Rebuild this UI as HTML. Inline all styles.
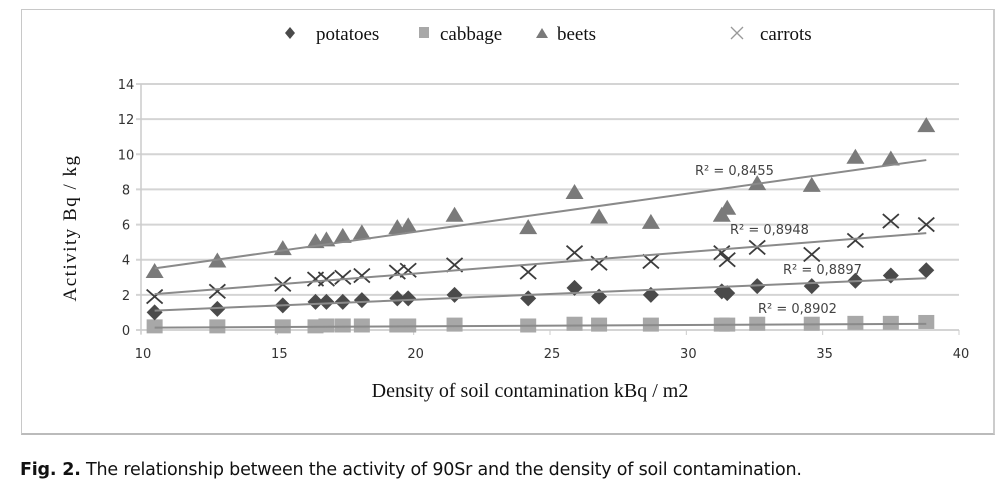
<!DOCTYPE html>
<html><head><meta charset="utf-8"><style>
body{margin:0;width:1002px;height:495px;background:#fff;overflow:hidden;font-family:"Liberation Sans",sans-serif}
#frame{position:absolute;left:21px;top:9px;width:971px;height:423px;border:1px solid #c8c8c8;border-bottom:2px solid #bbb;border-right:2px solid #ccc}
#caption{position:absolute;left:20px;top:460px;font-size:17.5px;color:#111;white-space:nowrap;font-family:"DejaVu Sans",sans-serif;letter-spacing:-0.2px}
svg{position:absolute;left:0;top:0}
</style></head><body>
<div id="frame"></div>
<svg id="chart" width="1002" height="495"></svg>
<div id="caption"><b>Fig. 2.</b> The relationship between the activity of 90Sr and the density of soil contamination.</div>
<script>
const xs=[10.5,12.8,15.2,16.4,16.8,17.4,18.1,19.4,19.8,21.5,24.2,25.9,26.8,28.7,31.3,31.5,32.6,34.6,36.2,37.5,38.8];
const beets=[3.3,3.9,4.6,5.0,5.1,5.3,5.5,5.8,5.9,6.5,5.8,7.8,6.4,6.1,6.5,6.9,8.3,8.2,9.8,9.7,11.6];
const carrots=[1.9,2.2,2.6,2.9,2.9,3.0,3.1,3.3,3.4,3.7,3.3,4.4,3.8,3.9,4.4,4.0,4.7,4.3,5.1,6.2,6.0];
const potatoes=[1.0,1.2,1.4,1.6,1.6,1.6,1.7,1.8,1.8,2.0,1.8,2.4,1.9,2.0,2.2,2.1,2.5,2.5,2.8,3.1,3.4];
const cabbage=[0.15,0.15,0.15,0.15,0.2,0.2,0.2,0.2,0.2,0.25,0.2,0.3,0.25,0.25,0.25,0.25,0.3,0.3,0.35,0.35,0.4];
const xTicks=[10,15,20,25,30,35,40];
const yTicks=[0,2,4,6,8,10,12,14];
const r2Labels=["R² = 0,8455","R² = 0,8948","R² = 0,8897","R² = 0,8902"];

const svg=document.getElementById('chart');
const NS='http://www.w3.org/2000/svg';
const X=v=>141+(v-10)*(959-141)/30;
const Y=v=>330-v*(330-84)/14;
function mk(t,a,p){const e=document.createElementNS(NS,t);for(const k in a)e.setAttribute(k,a[k]);(p||svg).appendChild(e);return e;}

yTicks.forEach(t=>{
  const g=mk('line',{x1:136,x2:959,y1:Y(t),y2:Y(t),stroke:'#d4d4d4','stroke-width':2});
  
  
  const l=mk('text',{x:126,y:Y(t)+5,'text-anchor':'middle','font-size':13,fill:'#333','font-family':'DejaVu Sans, sans-serif'});
  l.textContent=t;
  
  
});
const ax=mk('line',{x1:141,x2:141,y1:84,y2:334,stroke:'#ccc','stroke-width':1.5});


xTicks.forEach(t=>{
  const tk=mk('line',{x1:X(t),x2:X(t),y1:330,y2:335,stroke:'#ccc'});
  
  
  const l=mk('text',{x:X(t)+2,y:358,'text-anchor':'middle','font-size':13,fill:'#333','font-family':'DejaVu Sans, sans-serif'});
  l.textContent=t;
  
  
});

function fit(ys){const n=xs.length;let sx=0,sy=0,sxx=0,sxy=0;for(let i=0;i<n;i++){sx+=xs[i];sy+=ys[i];sxx+=xs[i]*xs[i];sxy+=xs[i]*ys[i];}const b=(n*sxy-sx*sy)/(n*sxx-sx*sx);return [b,(sy-b*sx)/n];}
function trend(ys,name){const [b,a]=fit(ys);const x0=xs[0],x1=xs[xs.length-1];
  const l=mk('line',{x1:X(x0),y1:Y(a+b*x0),x2:X(x1),y2:Y(a+b*x1),stroke:'#8a8a8a','stroke-width':2});
  
  }
function marker(type,x,y,name){
  let e;
  if(type==='diamond')e=mk('polygon',{points:`${x},${y-8} ${x+8},${y} ${x},${y+8} ${x-8},${y}`,fill:'#4a4a4a'});
  else if(type==='square')e=mk('rect',{x:x-8,y:y-8,width:16,height:14,fill:'#a8a8a8'});
  else if(type==='triangle')e=mk('polygon',{points:`${x},${y-9} ${x+9},${y+6} ${x-9},${y+6}`,fill:'#7a7a7a'});
  else e=mk('path',{d:`M${x-8},${y-7}L${x+8},${y+7}M${x-8},${y+7}L${x+8},${y-7}`,stroke:'#3c3c3c','stroke-width':1.8,fill:'none'});
  
  
}
const series=[[cabbage,'square','cabbage'],[beets,'triangle','beets'],[carrots,'x','carrots'],[potatoes,'diamond','potatoes']];
series.forEach(([ys,t,n])=>{ys.forEach((v,i)=>marker(t,X(xs[i]),Y(v),n+'-point'));});
series.forEach(([ys,t,n])=>trend(ys,n));

const r2pos=[[695,175],[730,234],[783,274],[758,313]];
r2Labels.forEach((s,i)=>{const t=mk('text',{x:r2pos[i][0],y:r2pos[i][1],'font-size':13,fill:'#444','font-family':'DejaVu Sans, sans-serif'});t.textContent=s;
  
  });

const leg=[['diamond',290,'potatoes',316],['square',424,'cabbage',440],['triangle',542,'beets',557],['x',737,'carrots',760]];
leg.forEach(([t,mx,lab,tx])=>{
  if(t==='diamond'){const e=mk('polygon',{points:`${mx},${27} ${mx+5},${33} ${mx},${39} ${mx-5},${33}`,fill:'#4a4a4a'});}
  else if(t==='square'){const e=mk('rect',{x:mx-5,y:27,width:10,height:11,fill:'#a8a8a8'});}
  else if(t==='triangle'){const e=mk('polygon',{points:`${mx},${28} ${mx+6},${38} ${mx-6},${38}`,fill:'#7a7a7a'});}
  else{const e=mk('path',{d:`M${mx-6},${27}L${mx+6},${39}M${mx-6},${39}L${mx+6},${27}`,stroke:'#999','stroke-width':1.3});}
  const l=mk('text',{x:tx,y:40,'font-size':19,fill:'#111','font-family':'Liberation Serif, serif'});l.textContent=lab;
  
  
});

const yt=mk('text',{x:0,y:0,'font-size':19,fill:'#111','font-family':'Liberation Serif, serif','text-anchor':'middle','letter-spacing':'1.5',transform:'translate(76,228) rotate(-90)'});
yt.textContent='Activity  Bq / kg';


const xt=mk('text',{x:530,y:397,'font-size':20,fill:'#111','font-family':'Liberation Serif, serif','text-anchor':'middle'});
xt.textContent='Density of soil contamination kBq / m2';


</script>
</body></html>
